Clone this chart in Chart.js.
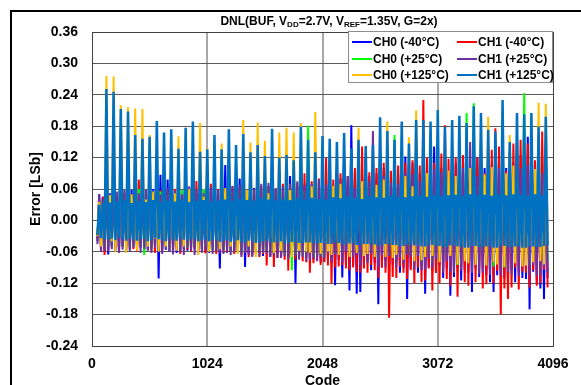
<!DOCTYPE html>
<html>
<head>
<meta charset="utf-8">
<script src="https://cdn.jsdelivr.net/npm/chart.js@4.4.1/dist/chart.umd.min.js"></script>
<style>
  html, body { margin: 0; padding: 0; overflow: hidden; background: #fff; }
  #wrap { position: relative; width: 581px; height: 400px; }
  #frame { position: absolute; left: 10px; top: 10px; width: 620px; height: 420px;
           border-left: 2px solid #000; border-top: 2px solid #000; }
  #title { position: absolute; left: 329px; top: 14px; transform: translateX(-50%);
           font: bold 12px "Liberation Sans", Arial, sans-serif; white-space: nowrap; }
  #title sub { font-size: 8px; vertical-align: -2px; line-height: 0; }
  #legend { position: absolute; left: 348px; top: 31px; width: 205px; height: 52px;
            box-sizing: border-box; border: 1px solid #8c8c8c; background: #fff; }
  .item { position: absolute; height: 16px; display: flex; align-items: center;
          font: bold 12px "Liberation Sans", Arial, sans-serif; white-space: nowrap; }
  .swatch { display: inline-block; width: 20px; height: 2px; margin-right: 1px; }
</style>
</head>
<body>
<div id="wrap">
  <canvas id="dnlChart" width="581" height="400"></canvas>
  <div id="frame"></div>
  <div id="title">DNL(BUF, V<sub>DD</sub>=2.7V, V<sub>REF</sub>=1.35V, G=2x)</div>
  <div id="legend"></div>
</div>
<script>
// ==============================
// Data (DNL in LSb, one value every 16 codes starting at code 48)
// ==============================
const codeStart = 48;
const codeStep = 16;

const xTicks = [0, 1024, 2048, 3072, 4096];
const yTicks = [-0.24, -0.18, -0.12, -0.06, 0, 0.06, 0.12, 0.18, 0.24, 0.3, 0.36];

const seriesNames = ["CH0 (-40°C)", "CH1 (-40°C)", "CH0 (+25°C)", "CH1 (+25°C)", "CH0 (+125°C)", "CH1 (+125°C)"];
const seriesColors = ["#0000FF", "#FF0000", "#00FF00", "#7030A0", "#FFC000", "#0070C0"];

// CH0 (-40°C)
const ch0Cold = [
  -0.04, 0.05, -0.055, 0.045, -0.06,
  0.1, -0.065, 0.052, -0.05, 0.09, -0.058, 0.045, -0.062,
  0.08, -0.05, 0.05, -0.06, 0.1, -0.055, 0.058, -0.048,
  0.09, -0.058, 0.048, -0.052, 0.08, -0.06, 0.055, -0.056,
  0.1, -0.052, 0.06, -0.048, 0.12, -0.111, 0.087, -0.055,
  0.09, -0.056, 0.078, -0.06, 0.1, -0.05, 0.05, -0.062,
  0.08, -0.06, 0.055, -0.054, 0.1, -0.058, 0.062, -0.05,
  0.1, -0.052, 0.05, -0.063, 0.08, -0.055, 0.058, -0.06,
  0.09, -0.062, 0.056, -0.05, 0.1, -0.058, 0.052, -0.092,
  0.1, -0.055, 0.106, -0.062, 0.12, -0.06, 0.06, -0.058,
  0.1, -0.06, 0.08, -0.055, 0.11, -0.089, 0.058, -0.062,
  0.09, -0.065, 0.062, -0.058, 0.1, -0.063, 0.055, -0.068,
  0.08, -0.06, 0.066, -0.07, 0.12, -0.065, 0.06, -0.063,
  0.09, -0.068, 0.058, -0.062, 0.1, -0.07, 0.085, -0.066,
  0.1, -0.12, 0.065, -0.068, 0.12, -0.066, 0.07, -0.072,
  0.11, -0.07, 0.068, -0.075, 0.1, -0.068, 0.062, -0.08,
  0.12, -0.078, 0.072, -0.07, 0.1, -0.082, 0.068, -0.124,
  0.1, -0.075, 0.08, -0.109, 0.12, -0.08, 0.075, -0.134,
  0.182, -0.085, 0.095, -0.14, 0.11, -0.137, 0.08, -0.09,
  0.12, -0.078, 0.085, -0.095, 0.1, -0.082, 0.09, -0.16,
  0.13, -0.09, 0.1, -0.076, 0.12, -0.098, 0.082, -0.085,
  0.12, -0.08, 0.088, -0.1, 0.13, -0.09, 0.122, -0.15,
  0.1, -0.092, 0.11, -0.082, 0.14, -0.1, 0.09, -0.088,
  0.13, -0.14, 0.095, -0.09, 0.12, -0.096, 0.141, -0.1,
  0.14, -0.085, 0.1, -0.11, 0.12, -0.092, 0.092, -0.144,
  0.12, -0.108, 0.11, -0.09, 0.13, -0.115, 0.098, -0.095,
  0.14, -0.1, 0.105, -0.137, 0.15, -0.092, 0.12, -0.108,
  0.13, -0.09, 0.1, -0.105, 0.12, -0.118, 0.108, -0.137,
  0.12, -0.105, 0.115, -0.095, 0.14, -0.11, 0.1, -0.115,
  0.13, -0.094, 0.11, -0.118, 0.15, -0.1, 0.125, -0.11,
  0.14, -0.112, 0.16, -0.17, 0.15, -0.098, 0.11, -0.12,
  0.13, -0.13, 0.118, -0.15, 0.14, -0.11
];

// CH1 (-40°C)
const ch1Cold = [
  -0.035, 0.04, -0.05, 0.045, -0.066,
  0.09, -0.055, 0.05, -0.048, 0.08, -0.052, 0.045, -0.057,
  0.1, -0.05, 0.055, -0.058, 0.09, -0.048, 0.05, -0.055,
  0.08, -0.06, 0.078, -0.05, 0.1, -0.056, 0.052, -0.05,
  0.09, -0.058, 0.05, -0.062, 0.1, -0.05, 0.058, -0.06,
  0.1, -0.05, 0.055, -0.056, 0.09, -0.062, 0.06, -0.052,
  0.08, -0.064, 0.058, -0.05, 0.1, -0.055, 0.052, -0.06,
  0.1, -0.055, 0.075, -0.06, 0.09, -0.05, 0.056, -0.063,
  0.1, -0.058, 0.07, -0.055, 0.09, -0.064, 0.06, -0.058,
  0.09, -0.062, 0.058, -0.06, 0.11, -0.058, 0.065, -0.064,
  0.1, -0.06, 0.062, -0.066, 0.1, -0.06, 0.058, -0.07,
  0.09, -0.068, 0.06, -0.062, 0.12, -0.07, 0.066, -0.064,
  0.1, -0.086, 0.065, -0.068, 0.11, -0.089, 0.06, -0.072,
  0.09, -0.07, 0.07, -0.075, 0.1, -0.096, 0.068, -0.07,
  0.1, -0.075, 0.072, -0.07, 0.12, -0.078, 0.09, -0.08,
  0.11, -0.1, 0.075, -0.082, 0.1, -0.076, 0.08, -0.085,
  0.12, -0.08, 0.119, -0.086, 0.11, -0.12, 0.078, -0.09,
  0.1, -0.088, 0.09, -0.085, 0.12, -0.092, 0.085, -0.095,
  0.11, -0.09, 0.1, -0.098, 0.12, -0.1, 0.141, -0.092,
  0.12, -0.1, 0.092, -0.085, 0.11, -0.095, 0.1, -0.11,
  0.13, -0.09, 0.11, -0.1, 0.14, -0.186, 0.095, -0.108,
  0.12, -0.11, 0.105, -0.088, 0.13, -0.1, 0.11, -0.112,
  0.1, -0.095, 0.115, -0.12, 0.13, -0.09, 0.105, -0.118,
  0.23, -0.115, 0.12, -0.092, 0.14, -0.134, 0.11, -0.1,
  0.15, -0.12, 0.128, -0.095, 0.182, -0.112, 0.118, -0.125,
  0.13, -0.095, 0.12, -0.146, 0.14, -0.09, 0.125, -0.118,
  0.14, -0.125, 0.1, -0.088, 0.15, -0.118, 0.12, -0.092,
  0.15, -0.13, 0.09, -0.122, 0.14, -0.094, 0.135, -0.12,
  0.176, -0.096, 0.141, -0.18, 0.16, -0.13, 0.095, -0.15,
  0.13, -0.128, 0.147, -0.09, 0.15, -0.132, 0.154, -0.098,
  0.15, -0.1, 0.147, -0.128, 0.16, -0.095, 0.115, -0.125,
  0.14, -0.12, 0.17, -0.094, 0.15, -0.128
];

// CH0 (+25°C)
const ch0Mid = [
  -0.03, 0.035, -0.045, 0.04, -0.05,
  0.06, -0.048, 0.042, -0.052, 0.07, -0.045, 0.05, -0.04,
  0.06, -0.05, 0.045, -0.042, 0.05, -0.055, 0.04, -0.048,
  0.07, -0.045, 0.06, -0.05, 0.06, -0.066, 0.046, -0.044,
  0.05, -0.052, 0.042, -0.048, 0.06, -0.046, 0.055, -0.05,
  0.06, -0.048, 0.05, -0.055, 0.07, -0.05, 0.044, -0.046,
  0.05, -0.055, 0.058, -0.045, 0.06, -0.052, 0.048, -0.056,
  0.07, -0.05, 0.045, -0.054, 0.05, -0.048, 0.06, -0.05,
  0.06, -0.046, 0.052, -0.058, 0.07, -0.055, 0.046, -0.05,
  0.05, -0.056, 0.048, -0.05, 0.06, -0.06, 0.054, -0.052,
  0.07, -0.05, 0.056, -0.062, 0.06, -0.054, 0.05, -0.058,
  0.06, -0.06, 0.05, -0.055, 0.07, -0.058, 0.06, -0.062,
  0.07, -0.058, 0.062, -0.06, 0.08, -0.065, 0.052, -0.056,
  0.06, -0.062, 0.055, -0.066, 0.07, -0.06, 0.058, -0.095,
  0.08, -0.065, 0.06, -0.062, 0.09, -0.068, 0.056, -0.064,
  0.181, -0.066, 0.065, -0.07, 0.08, -0.064, 0.06, -0.068,
  0.09, -0.07, 0.052, -0.05, 0.08, -0.056, 0.06, -0.048,
  0.08, -0.052, 0.058, -0.06, 0.09, -0.05, 0.048, -0.058,
  0.09, -0.06, 0.05, -0.054, 0.1, -0.062, 0.062, -0.05,
  0.08, -0.055, 0.065, -0.05, 0.09, -0.058, 0.05, -0.075,
  0.1, -0.05, 0.055, -0.06, 0.09, -0.065, 0.06, -0.056,
  0.163, -0.058, 0.06, -0.055, 0.1, -0.06, 0.075, -0.062,
  0.09, -0.062, 0.058, -0.065, 0.1, -0.056, 0.06, -0.08,
  0.1, -0.058, 0.07, -0.062, 0.11, -0.082, 0.062, -0.06,
  0.11, -0.065, 0.06, -0.058, 0.1, -0.066, 0.08, -0.062,
  0.1, -0.06, 0.065, -0.085, 0.12, -0.06, 0.06, -0.068,
  0.205, -0.066, 0.07, -0.06, 0.224, -0.07, 0.065, -0.062,
  0.11, -0.062, 0.085, -0.068, 0.12, -0.064, 0.06, -0.088,
  0.12, -0.07, 0.065, -0.064, 0.11, -0.09, 0.07, -0.066,
  0.1, -0.064, 0.075, -0.07, 0.12, -0.068, 0.062, -0.072,
  0.243, -0.07, 0.066, -0.085, 0.12, -0.066, 0.08, -0.07,
  0.11, -0.068, 0.07, -0.072, 0.12, -0.077
];

// CH1 (+25°C)
const ch1Mid = [
  -0.045, 0.05, -0.06, 0.042, -0.058,
  0.08, -0.06, 0.05, -0.055, 0.07, -0.05, 0.055, -0.062,
  0.07, -0.056, 0.058, -0.05, 0.08, -0.06, 0.048, -0.052,
  0.08, -0.05, 0.052, -0.062, 0.07, -0.054, 0.06, -0.058,
  0.07, -0.062, 0.055, -0.052, 0.08, -0.058, 0.05, -0.064,
  0.08, -0.054, 0.062, -0.06, 0.07, -0.065, 0.056, -0.05,
  0.07, -0.06, 0.05, -0.066, 0.08, -0.052, 0.065, -0.058,
  0.08, -0.066, 0.06, -0.054, 0.07, -0.062, 0.052, -0.056,
  0.07, -0.055, 0.064, -0.064, 0.08, -0.058, 0.058, -0.062,
  0.08, -0.064, 0.055, -0.058, 0.07, -0.066, 0.066, -0.06,
  0.09, -0.06, 0.068, -0.07, 0.08, -0.062, 0.056, -0.066,
  0.08, -0.07, 0.06, -0.064, 0.09, -0.068, 0.07, -0.062,
  0.09, -0.064, 0.072, -0.07, 0.1, -0.066, 0.062, -0.072,
  0.08, -0.072, 0.065, -0.068, 0.09, -0.074, 0.07, -0.066,
  0.09, -0.068, 0.075, -0.075, 0.1, -0.07, 0.066, -0.078,
  0.1, -0.076, 0.07, -0.072, 0.09, -0.078, 0.078, -0.07,
  0.11, -0.072, 0.068, -0.062, 0.1, -0.078, 0.06, -0.066,
  0.1, -0.064, 0.072, -0.08, 0.11, -0.06, 0.085, -0.07,
  0.11, -0.07, 0.062, -0.066, 0.12, -0.085, 0.07, -0.062,
  0.12, -0.082, 0.075, -0.064, 0.171, -0.07, 0.066, -0.088,
  0.11, -0.066, 0.085, -0.09, 0.12, -0.068, 0.072, -0.074,
  0.12, -0.09, 0.07, -0.07, 0.13, -0.082, 0.09, -0.066,
  0.11, -0.07, 0.088, -0.094, 0.12, -0.068, 0.075, -0.095,
  0.13, -0.094, 0.07, -0.072, 0.12, -0.09, 0.098, -0.074,
  0.12, -0.075, 0.092, -0.1, 0.13, -0.078, 0.08, -0.098,
  0.13, -0.1, 0.075, -0.08, 0.12, -0.096, 0.1, -0.076,
  0.14, -0.078, 0.15, -0.1, 0.13, -0.08, 0.085, -0.102,
  0.12, -0.1, 0.08, -0.082, 0.13, -0.104, 0.095, -0.08,
  0.13, -0.08, 0.1, -0.105, 0.14, -0.084, 0.078, -0.098,
  0.12, -0.104, 0.085, -0.08, 0.13, -0.106, 0.1, -0.082,
  0.13, -0.082, 0.106, -0.104, 0.14, -0.085, 0.08, -0.106,
  0.12, -0.104, 0.09, -0.086, 0.13, -0.1
];

// CH0 (+125°C)
const ch0Hot = [
  -0.03, 0.035, -0.05, 0.03, -0.03,
  0.276, -0.03, 0.048, -0.04, 0.275, -0.06, 0.03, -0.03,
  0.22, -0.032, 0.03, -0.062, 0.216, -0.03, 0.05, -0.035,
  0.214, -0.058, 0.03, -0.032, 0.213, -0.03, 0.04, -0.05,
  0.163, -0.03, 0.055, -0.035, 0.08, -0.06, 0.03, -0.032,
  0.07, -0.05, 0.032, -0.03, 0.09, -0.034, 0.052, -0.058,
  0.161, -0.03, 0.03, -0.05, 0.1, -0.032, 0.06, -0.03,
  0.09, -0.034, 0.03, -0.066, 0.186, -0.03, 0.045, -0.032,
  0.138, -0.06, 0.032, -0.03, 0.09, -0.035, 0.03, -0.055,
  0.147, -0.03, 0.062, -0.034, 0.1, -0.05, 0.032, -0.03,
  0.08, -0.064, 0.03, -0.032, 0.192, -0.03, 0.058, -0.05,
  0.149, -0.034, 0.032, -0.07, 0.187, -0.035, 0.035, -0.032,
  0.152, -0.035, 0.052, -0.034, 0.1, -0.062, 0.033, -0.036,
  0.168, -0.058, 0.035, -0.036, 0.177, -0.034, 0.058, -0.07,
  0.168, -0.035, 0.034, -0.058, 0.186, -0.036, 0.035, -0.06,
  0.1, -0.062, 0.065, -0.036, 0.207, -0.035, 0.036, -0.064,
  0.12, -0.036, 0.035, -0.06, 0.11, -0.066, 0.066, -0.038,
  0.1, -0.066, 0.07, -0.038, 0.12, -0.037, 0.036, -0.07,
  0.1, -0.038, 0.036, -0.062, 0.177, -0.04, 0.075, -0.068,
  0.11, -0.064, 0.038, -0.04, 0.1, -0.07, 0.068, -0.039,
  0.12, -0.04, 0.078, -0.07, 0.189, -0.039, 0.038, -0.072,
  0.11, -0.066, 0.04, -0.04, 0.12, -0.075, 0.085, -0.042,
  0.159, -0.041, 0.065, -0.078, 0.21, -0.042, 0.04, -0.076,
  0.13, -0.07, 0.09, -0.043, 0.12, -0.068, 0.042, -0.044,
  0.14, -0.08, 0.042, -0.044, 0.13, -0.045, 0.095, -0.068,
  0.12, -0.046, 0.085, -0.084, 0.14, -0.045, 0.044, -0.078,
  0.13, -0.082, 0.1, -0.046, 0.15, -0.085, 0.045, -0.046,
  0.14, -0.046, 0.088, -0.086, 0.198, -0.047, 0.102, -0.08,
  0.12, -0.084, 0.045, -0.046, 0.15, -0.088, 0.09, -0.047,
  0.163, -0.047, 0.105, -0.082, 0.14, -0.046, 0.046, -0.088,
  0.15, -0.086, 0.047, -0.048, 0.13, -0.08, 0.098, -0.046,
  0.225, -0.078, 0.045, -0.084, 0.223, -0.046
];

// CH1 (+125°C)
const ch1Hot = [
  -0.028, 0.03, -0.034, 0.033, -0.036,
  0.251, -0.037, 0.034, -0.035, 0.246, -0.038, 0.036, -0.033,
  0.213, -0.036, 0.038, -0.039, 0.208, -0.034, 0.033, -0.037,
  0.163, -0.039, 0.037, -0.036, 0.156, -0.035, 0.035, -0.04,
  0.16, -0.038, 0.039, -0.034, 0.19, -0.036, 0.034, -0.038,
  0.168, -0.04, 0.038, -0.035, 0.174, -0.037, 0.036, -0.039,
  0.137, -0.035, 0.04, -0.037, 0.177, -0.039, 0.035, -0.036,
  0.189, -0.036, 0.037, -0.04, 0.131, -0.038, 0.039, -0.037,
  0.136, -0.04, 0.036, -0.038, 0.163, -0.037, 0.038, -0.041,
  0.136, -0.039, 0.04, -0.038, 0.174, -0.041, 0.037, -0.04,
  0.144, -0.038, 0.041, -0.042, 0.165, -0.042, 0.039, -0.039,
  0.13, -0.04, 0.038, -0.043, 0.144, -0.043, 0.042, -0.04,
  0.123, -0.039, 0.04, -0.042, 0.175, -0.042, 0.038, -0.041,
  0.12, -0.04, 0.041, -0.044, 0.125, -0.044, 0.039, -0.041,
  0.115, -0.041, 0.042, -0.043, 0.179, -0.043, 0.04, -0.042,
  0.154, -0.042, 0.043, -0.044, 0.13, -0.044, 0.041, -0.043,
  0.161, -0.043, 0.04, -0.045, 0.156, -0.045, 0.044, -0.042,
  0.15, -0.043, 0.042, -0.046, 0.167, -0.046, 0.045, -0.044,
  0.138, -0.044, 0.043, -0.047, 0.154, -0.047, 0.041, -0.045,
  0.142, -0.045, 0.046, -0.046, 0.144, -0.046, 0.044, -0.048,
  0.197, -0.048, 0.043, -0.045, 0.171, -0.045, 0.047, -0.047,
  0.154, -0.047, 0.045, -0.049, 0.189, -0.049, 0.044, -0.046,
  0.147, -0.046, 0.046, -0.048, 0.192, -0.048, 0.047, -0.05,
  0.192, -0.05, 0.045, -0.047, 0.189, -0.047, 0.048, -0.049,
  0.211, -0.049, 0.046, -0.051, 0.179, -0.051, 0.048, -0.048,
  0.192, -0.048, 0.049, -0.05, 0.2, -0.05, 0.047, -0.052,
  0.186, -0.052, 0.05, -0.049, 0.218, -0.049, 0.048, -0.051,
  0.205, -0.051, 0.049, -0.05, 0.173, -0.05, 0.047, -0.052,
  0.17, -0.052, 0.05, -0.049, 0.23, -0.049, 0.048, -0.051,
  0.15, -0.051, 0.05, -0.05, 0.205, -0.05, 0.049, -0.052,
  0.203, -0.052, 0.047, -0.05, 0.205, -0.05, 0.05, -0.051,
  0.179, -0.051, 0.048, -0.049, 0.198, -0.047
];

const seriesValues = [ch0Cold, ch1Cold, ch0Mid, ch1Mid, ch0Hot, ch1Hot];
seriesValues.forEach((vals, i) => {
  if (vals.length !== 251) throw new Error(seriesNames[i] + " has " + vals.length + " values");
});

// ==============================
// Legend (HTML, 2 columns like the original)
// ==============================
const legend = document.getElementById("legend");
seriesNames.forEach((name, i) => {
  const item = document.createElement("div");
  item.className = "item";
  item.style.left = (i % 2 ? 108 : 3) + "px";
  item.style.top = (2 + Math.floor(i / 2) * 16.5) + "px";
  item.innerHTML = `<span class="swatch" style="background:${seriesColors[i]}"></span>${name}`;
  legend.appendChild(item);
});

// ==============================
// Chart
// ==============================
const font = { family: "'Liberation Sans', Arial, sans-serif", size: 14, weight: "bold" };

// plot border drawn in dark grey on top of the grid
const plotBorder = {
  id: "plotBorder",
  afterDraw(chart) {
    const { ctx, chartArea: a } = chart;
    ctx.save();
    ctx.strokeStyle = "#404040";
    ctx.lineWidth = 1;
    ctx.strokeRect(Math.round(a.left) + 0.5, Math.round(a.top) + 0.5,
      Math.round(a.right - a.left), Math.round(a.bottom - a.top));
    ctx.restore();
  },
};

const datasets = seriesValues.map((vals, i) => ({
  label: seriesNames[i],
  data: vals.map((v, j) => ({ x: codeStart + j * codeStep, y: v })),
  borderColor: seriesColors[i],
  borderWidth: i === 5 ? 2.5 : 2,
  pointRadius: 0,
  tension: 0,
  fill: false,
  order: 6 - i,
}));

new Chart(document.getElementById("dnlChart"), {
  type: "line",
  data: { datasets },
  options: {
    responsive: false,
    animation: false,
    events: [],
    layout: { padding: { left: 0, top: 32, right: 28, bottom: 0 } },
    plugins: {
      legend: { display: false },
      tooltip: { enabled: false },
    },
    scales: {
      x: {
        type: "linear",
        min: 0,
        max: 4096,
        afterBuildTicks: (s) => { s.ticks = xTicks.map((v) => ({ value: v })); },
        afterFit: (s) => { s.height = 54; },
        grid: {
          color: (c) => (c.tick && (c.tick.value === 0 || c.tick.value === 4096) ? "rgba(0,0,0,0)" : "#a8a8a8"),
          lineWidth: 2,
          drawTicks: false,
        },
        border: { display: false },
        ticks: { font, color: "#000", padding: 10, maxRotation: 0, callback: (v) => String(v) },
        title: { display: true, text: "Code", font, color: "#000", padding: { top: 0, bottom: 10 } },
      },
      y: {
        min: -0.24,
        max: 0.36,
        afterBuildTicks: (s) => { s.ticks = yTicks.map((v) => ({ value: v })); },
        afterFit: (s) => { s.width = 92; },
        grid: { color: "#5a5a5a", lineWidth: 1, drawTicks: false },
        border: { display: false },
        ticks: { font, color: "#000", padding: 14, callback: (v) => v.toFixed(2) },
        title: { display: true, text: "Error [LSb]", font, color: "#000", padding: { top: 28, bottom: 0 } },
      },
    },
  },
  plugins: [plotBorder],
});
</script>
</body>
</html>
